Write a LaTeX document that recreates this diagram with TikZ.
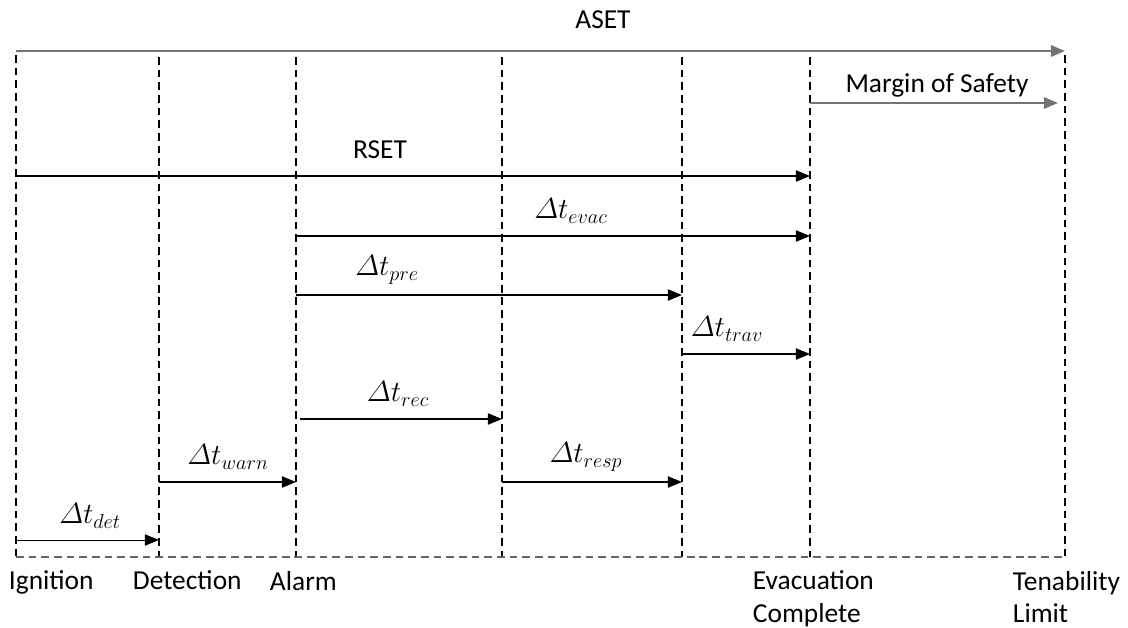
\documentclass[tikz,border=0pt]{standalone}
\usepackage{amsmath}
\usepackage{fontspec}
\setmainfont{Carlito}
\usetikzlibrary{arrows.meta}
\tikzset{
  tl/.style={line width=0.9pt,-{Triangle[length=10pt,width=8pt]}},
  tlgray/.style={tl,draw=black!55,line width=1.6pt},
  evline/.style={dashed,dash pattern=on 5.5pt off 3.5pt,line width=0.8pt},
  lab/.style={font=\fontsize{19.5}{23}\selectfont},
  evlab/.style={lab,anchor=north west,align=left}
}
\newcommand{\dt}[1]{$\varDelta t_{#1}$}
\begin{document}
\begin{tikzpicture}[x=0.025cm,y=-0.025cm]
        \useasboundingbox (0,0) rectangle (1128,627);
        % eventi (linee verticali)
        \coordinate (ign) at (16,55);
        \coordinate (det) at (159,57);
        \coordinate (alm) at (296,57);
        \coordinate (rec) at (502,57);
        \coordinate (pre) at (682,57);
        \coordinate (evc) at (810,57);
        \coordinate (ten) at (1065,55);
        \coordinate (base) at (0,557);
        \foreach \e in {ign,det,alm,rec,pre,evc,ten}
            \draw[evline] (\e) -- (\e |- base);
        \draw[evline,draw=black!60] (ign |- base) -- (ten |- base);

        % righe delle frecce
        \coordinate (raset) at (0,51);
        \coordinate (rmos) at (0,103);
        \coordinate (rrset) at (0,176);
        \coordinate (revac) at (0,236);
        \coordinate (rpre) at (0,295);
        \coordinate (rtrav) at (0,354);
        \coordinate (rrec) at (0,419);
        \coordinate (rresp) at (0,482);
        \coordinate (rdet) at (0,540);

        % frecce
        \draw[tlgray] (ign |- raset) -- (ten |- raset);
        \draw[tlgray] (evc |- rmos) -- ([xshift=-7*0.025cm]ten |- rmos);
        \draw[tl] (ign |- rrset) -- (evc |- rrset);
        \draw[tl] (alm |- revac) -- (evc |- revac);
        \draw[tl] (alm |- rpre) -- (pre |- rpre);
        \draw[tl] (pre |- rtrav) -- (evc |- rtrav);
        \draw[tl] ([xshift=4*0.025cm]alm |- rrec) -- (rec |- rrec);
        \draw[tl] (rec |- rresp) -- (pre |- rresp);
        \draw[tl] (det |- rresp) -- (alm |- rresp);
        \draw[tl,line width=0.7pt] (ign |- rdet) -- (det |- rdet);

        % etichette
        \node[lab] (aset) at (603,20) {ASET};
        \node[lab] (mos) at (937,85) {Margin of Safety};
        \node[lab] (rset) at (380,150) {RSET};
        \node[lab] (tevac) at (571,211) {\dt{evac}};
        \node[lab] (tpre) at (387,270) {\dt{pre}};
        \node[lab] (ttrav) at (727,329) {\dt{trav}};
        \node[lab] (trec) at (398,394) {\dt{rec}};
        \node[lab] (tresp) at (586,457) {\dt{resp}};
        \node[lab] (twarn) at (228,457) {\dt{warn}};
        \node[lab] (tdet) at (90,516) {\dt{det}};

        \node[evlab] (lign) at (4,566) {Ignition};
        \node[evlab] (ldet) at (128,566) {Detection};
        \node[evlab] (lalm) at (265,566) {Alarm};
        \node[evlab] (levc) at (748,566) {Evacuation\\Complete};
        \node[evlab] (lten) at (1008,566) {Tenability\\Limit};
    \end{tikzpicture}
\end{document}
